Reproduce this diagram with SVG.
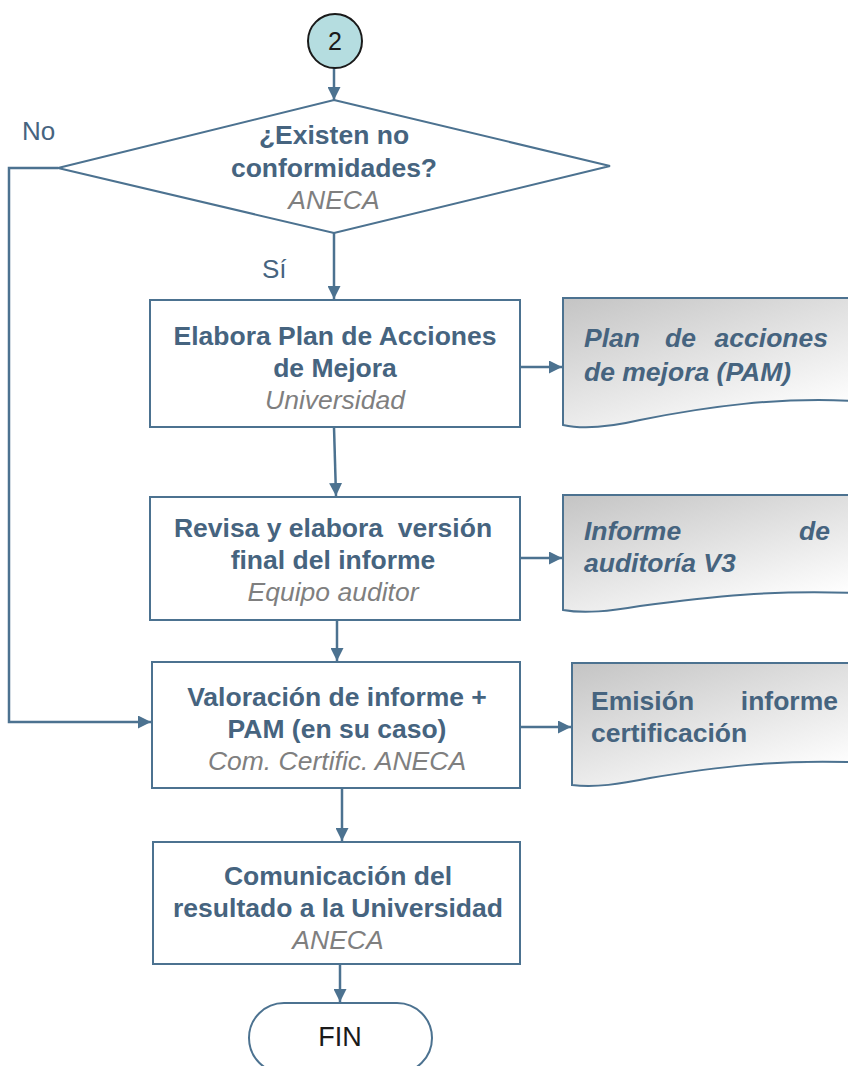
<svg xmlns="http://www.w3.org/2000/svg" width="848" height="1066" viewBox="0 0 848 1066">
<style>
.box{fill:#fff;stroke:#4c7290;stroke-width:2}
.ln{fill:none;stroke:#4c7290;stroke-width:2.5}
.t{font-family:"Liberation Sans",Arial,sans-serif;font-size:26.5px;font-weight:bold;fill:#46647f;text-anchor:middle}
.g{font-family:"Liberation Sans",Arial,sans-serif;font-size:26.5px;font-style:italic;fill:#7f7f7f;text-anchor:middle}
.d{font-family:"Liberation Sans",Arial,sans-serif;font-size:26.5px;font-weight:bold;fill:#46647f}
.di{font-style:italic}
.lb{font-family:"Liberation Sans",Arial,sans-serif;font-size:26px;fill:#46647f}
.doc{fill:url(#gr);stroke:#4c7290;stroke-width:2}
</style>
<defs>
<linearGradient id="gr" x1="0" y1="0" x2="0.7" y2="1">
<stop offset="0" stop-color="#c4c4c4"/>
<stop offset="1" stop-color="#ffffff"/>
</linearGradient>
<marker id="ar" markerWidth="13" markerHeight="13" refX="13" refY="6.5" orient="auto" markerUnits="userSpaceOnUse" viewBox="0 0 13 13">
<path d="M0,0 L13,6.5 L0,13 Z" fill="#4c7290"/>
</marker>
</defs>
<g id="connectors">
<path class="ln" d="M334,68 L334,100" marker-end="url(#ar)"/>
<path class="ln" d="M334,233 L334,299" marker-end="url(#ar)"/>
<path class="ln" d="M58,168 L9,168 L9,722 L151,722" marker-end="url(#ar)"/>
<path class="ln" d="M334,427 L336,496" marker-end="url(#ar)"/>
<path class="ln" d="M337,620 L337,661" marker-end="url(#ar)"/>
<path class="ln" d="M342,788 L342,841" marker-end="url(#ar)"/>
<path class="ln" d="M340,964 L340,1002" marker-end="url(#ar)"/>
<path class="ln" d="M520,367 L562,367" marker-end="url(#ar)"/>
<path class="ln" d="M520,558 L562,558" marker-end="url(#ar)"/>
<path class="ln" d="M520,727 L571,727" marker-end="url(#ar)"/>
</g>
<g id="start">
<circle cx="335" cy="41" r="27" fill="#b5dde0" stroke="#1a1a1a" stroke-width="2"/>
<text x="335" y="50" font-family="'Liberation Sans',Arial,sans-serif" font-size="25" fill="#1a1a1a" text-anchor="middle">2</text>
</g>
<g id="decision">
<path class="box" d="M334,100 L610,166 L334,233 L58,168 Z"/>
<text class="t" x="334" y="144">¿Existen no</text>
<text class="t" x="334" y="177">conformidades?</text>
<text class="g" x="334" y="209">ANECA</text>
</g>
<text class="lb" x="22" y="140">No</text>
<text class="lb" x="262" y="278">Sí</text>
<g id="n1">
<rect class="box" x="150" y="300" width="370" height="127"/>
<text class="t" x="335" y="345">Elabora Plan de Acciones</text>
<text class="t" x="335" y="377">de Mejora</text>
<text class="g" x="335" y="409">Universidad</text>
</g>
<g id="doc1">
<path class="doc" d="M563,298 L870,298 L870,402 C780,395 700,408 640,420 C610,427 585,430 563,425 Z"/>
<text class="d di" y="347"><tspan x="584">Plan</tspan><tspan x="665">de</tspan><tspan x="828" text-anchor="end">acciones</tspan></text>
<text class="d di" x="584" y="381">de mejora (PAM)</text>
</g>
<g id="n2">
<rect class="box" x="150" y="497" width="370" height="123"/>
<text class="t" x="333" y="537" xml:space="preserve">Revisa y elabora  versión</text>
<text class="t" x="333" y="569">final del informe</text>
<text class="g" x="333" y="601">Equipo auditor</text>
</g>
<g id="doc2">
<path class="doc" d="M563,495 L870,495 L870,594 C780,588 700,598 640,606 C610,611 585,614 563,610 Z"/>
<text class="d di" y="540"><tspan x="584">Informe</tspan><tspan x="830" text-anchor="end">de</tspan></text>
<text class="d di" x="584" y="572">auditoría V3</text>
</g>
<g id="n3">
<rect class="box" x="152" y="662" width="368" height="126"/>
<text class="t" x="337" y="706">Valoración de informe +</text>
<text class="t" x="337" y="738">PAM (en su caso)</text>
<text class="g" x="337" y="770">Com. Certific. ANECA</text>
</g>
<g id="doc3">
<path class="doc" d="M572,663 L870,663 L870,763 C780,758 710,768 650,778 C620,784 595,788 572,785 Z"/>
<text class="d" y="710"><tspan x="591">Emisión</tspan><tspan x="838" text-anchor="end">informe</tspan></text>
<text class="d" x="591" y="742">certificación</text>
</g>
<g id="n4">
<rect class="box" x="153" y="842" width="367" height="122"/>
<text class="t" x="338" y="885">Comunicación del</text>
<text class="t" x="338" y="917">resultado a la Universidad</text>
<text class="g" x="338" y="949">ANECA</text>
</g>
<g id="end">
<rect x="249" y="1003" width="183" height="70" rx="35" fill="#fff" stroke="#4c7290" stroke-width="2"/>
<text x="340" y="1046" font-family="'Liberation Sans',Arial,sans-serif" font-size="27" fill="#1a1a1a" text-anchor="middle">FIN</text>
</g>
</svg>
